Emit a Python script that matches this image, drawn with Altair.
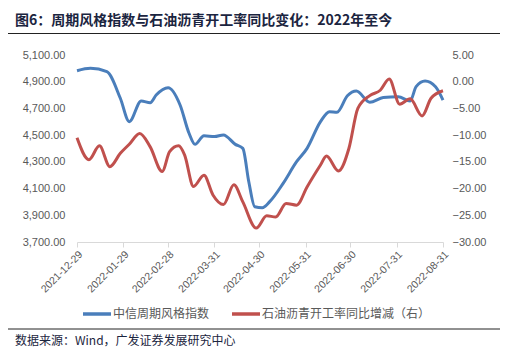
import altair as alt
import pandas as pd

# ---- data ----
blue_name = "中信周期风格指数"
red_name = "石油沥青开工率同比增减（右）"

blue_dates = ["2021-12-29", "2022-01-07", "2022-01-18", "2022-01-27", "2022-02-02", "2022-02-10",
              "2022-02-16", "2022-02-20", "2022-02-28", "2022-03-08", "2022-03-14", "2022-03-18",
              "2022-03-24", "2022-03-31", "2022-04-06", "2022-04-14", "2022-04-19", "2022-04-23",
              "2022-04-27", "2022-05-02", "2022-05-07", "2022-05-16", "2022-05-25", "2022-06-01",
              "2022-06-10", "2022-06-16", "2022-06-21", "2022-06-28", "2022-07-04", "2022-07-13",
              "2022-07-22", "2022-08-01", "2022-08-09", "2022-08-13", "2022-08-19", "2022-08-26",
              "2022-08-31"]
blue_values = [4982, 5000, 4975, 4776, 4601, 4756,
               4743, 4800, 4855, 4726, 4514, 4431,
               4496, 4489, 4501, 4431, 4401, 4151,
               3964, 3957, 4002, 4139, 4301, 4401,
               4601, 4676, 4671, 4795, 4830, 4746,
               4781, 4788, 4756, 4863, 4905, 4863,
               4763]

red_dates = ["2021-12-29", "2022-01-06", "2022-01-13", "2022-01-20", "2022-01-27", "2022-02-02",
             "2022-02-09", "2022-02-16", "2022-02-24", "2022-03-01", "2022-03-07", "2022-03-11",
             "2022-03-17", "2022-03-24", "2022-03-30", "2022-04-06", "2022-04-13", "2022-04-19",
             "2022-04-28", "2022-05-05", "2022-05-11", "2022-05-18", "2022-05-25", "2022-06-01",
             "2022-06-10", "2022-06-14", "2022-06-22", "2022-06-29", "2022-07-05", "2022-07-13",
             "2022-07-20", "2022-07-26", "2022-08-02", "2022-08-09", "2022-08-17", "2022-08-23",
             "2022-08-31"]
red_values = [-10.5, -14.6, -12.0, -15.9, -13.4, -11.7,
              -9.7, -12.2, -16.8, -13.1, -12.0, -13.7,
              -19.6, -17.5, -21.2, -23.0, -19.3, -22.5,
              -27.4, -25.1, -25.3, -22.8, -23.1, -19.7,
              -15.6, -13.9, -16.7, -12.5, -5.0, -2.6,
              -1.6, 0.5, -4.2, -3.2, -6.4, -3.1,
              -1.7]

tick_dates = [(2021, 12, 29), (2022, 1, 29), (2022, 2, 28), (2022, 3, 31), (2022, 4, 30),
              (2022, 5, 31), (2022, 6, 30), (2022, 7, 31), (2022, 8, 31)]
left_ticks = [3700, 3900, 4100, 4300, 4500, 4700, 4900, 5100]
right_ticks = [-30, -25, -20, -15, -10, -5, 0, 5]

title_text = "图6：周期风格指数与石油沥青开工率同比变化：2022年至今"
source_text = "数据来源：Wind，广发证券发展研究中心"

BLUE = "#4A7EBB"
RED = "#C0504D"
LABEL = "#595959"
FONT = "Liberation Sans"
CJK = "Noto Sans CJK SC"

blue_df = pd.DataFrame({"date": blue_dates, "value": blue_values, "series": blue_name})
red_df = pd.DataFrame({"date": red_dates, "value": red_values, "series": red_name})

def dt(t):
    return alt.DateTime(year=t[0], month=t[1], date=t[2], utc=True)

x_enc = alt.X(
    "date:T",
    scale=alt.Scale(type="utc", domain=[dt(tick_dates[0]), dt(tick_dates[-1])]),
    axis=alt.Axis(values=[dt(t) for t in tick_dates], format="%Y-%m-%d", labelAngle=-45,
                  title=None, grid=False, domainColor="#D9D9D9", tickColor="#D9D9D9",
                  tickSize=5, labelFontSize=10.5, labelColor=LABEL, labelFont=FONT,
                  labelPadding=2, labelOverlap=False, labelBound=False, labelFlush=False),
)

color_scale = alt.Scale(domain=[blue_name, red_name], range=[BLUE, RED])

blue_line = alt.Chart(blue_df).mark_line(strokeWidth=3, interpolate="monotone").encode(
    x=x_enc,
    y=alt.Y("value:Q", scale=alt.Scale(domain=[3700, 5100], nice=False, zero=False),
            axis=alt.Axis(orient="left", values=left_ticks, format=",.2f", title=None, grid=False,
                          domain=False, ticks=False, labelPadding=12, labelFontSize=11,
                          labelColor=LABEL, labelFont=FONT)),
    color=alt.Color("series:N", scale=color_scale, legend=None),
)

red_line = alt.Chart(red_df).mark_line(strokeWidth=3, interpolate="monotone").encode(
    x=alt.X("date:T"),
    y=alt.Y("value:Q", scale=alt.Scale(domain=[-30, 5], nice=False, zero=False),
            axis=alt.Axis(orient="right", values=right_ticks, format=".2f", title=None, grid=False,
                          domain=False, ticks=False, labelPadding=9, labelFontSize=11,
                          labelColor=LABEL, labelFont=FONT)),
    color=alt.Color("series:N", scale=color_scale, legend=None),
)

def one(d):
    return pd.DataFrame(d)

title = alt.Chart(one({"t": [title_text]})).mark_text(
    align="left", baseline="middle", font=CJK, fontSize=14, fontWeight="bold", color="#1B2540"
).encode(text="t:N", x=alt.value(-62), y=alt.value(-34))

top_rule = alt.Chart(one({"a": [0]})).mark_rule(color="#222222", strokeWidth=1).encode(
    x=alt.value(-70), x2=alt.value(423), y=alt.value(-21.5))

bottom_rule = alt.Chart(one({"a": [0]})).mark_rule(color="#222222", strokeWidth=1).encode(
    x=alt.value(-70), x2=alt.value(423), y=alt.value(274))

source = alt.Chart(one({"t": [source_text]})).mark_text(
    align="left", baseline="middle", font=CJK, fontSize=12, color="#1B2540"
).encode(text="t:N", x=alt.value(-62), y=alt.value(286))

def legend_item(name, color, x0, x1, xt):
    d = one({"t": [name]})
    line = alt.Chart(d).mark_rule(strokeWidth=3.5, color=color).encode(
        x=alt.value(x0), x2=alt.value(x1), y=alt.value(259))
    txt = alt.Chart(d).mark_text(
        align="left", baseline="middle", font=CJK, fontSize=12, color=LABEL
    ).encode(x=alt.value(xt), y=alt.value(259), text="t:N")
    return [line, txt]

leg = legend_item(blue_name, BLUE, 6, 34, 36) + legend_item(red_name, RED, 155, 183, 185)

chart = alt.layer(blue_line, red_line, title, top_rule, bottom_rule, source, *leg).resolve_scale(
    y="independent"
).properties(
    width=366, height=187,
    autosize=alt.AutoSizeParams(type="none"),
    padding={"left": 69, "top": 47, "right": 60, "bottom": 107},
    background="white",
).configure_view(stroke=None)

chart.save("out.html", embed_options={"renderer": "svg", "actions": False})
